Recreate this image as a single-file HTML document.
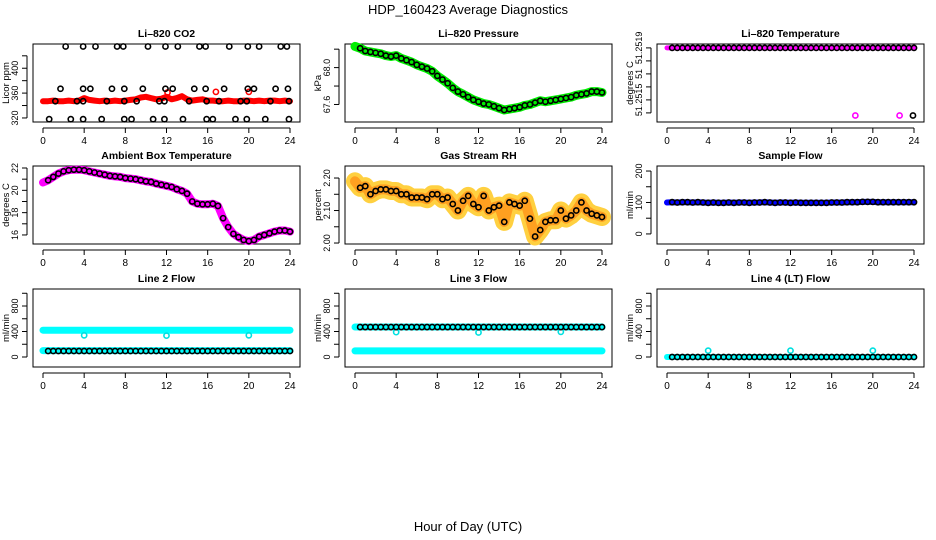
<!DOCTYPE html>
<html><head><meta charset="utf-8"><title>HDP_160423 Average Diagnostics</title>
<style>
html,body{margin:0;padding:0;background:#fff;}
svg{display:block;font-family:"Liberation Sans",Arial,sans-serif;}
</style></head>
<body>
<svg id="chart" width="936" height="540" viewBox="0 0 936 540" xmlns="http://www.w3.org/2000/svg">
<rect width="936" height="540" fill="#fff"/>
<text x="468" y="14" text-anchor="middle" font-size="13">HDP_160423  Average Diagnostics</text>
<text x="468" y="531" text-anchor="middle" font-size="13">Hour of Day (UTC)</text>
<g id="plots"></g>
</svg>
<script>
// ---------- data ----------
const hours = [0,0.5,1,1.5,2,2.5,3,3.5,4,4.5,5,5.5,6,6.5,7,7.5,8,8.5,9,9.5,10,10.5,11,11.5,12,12.5,13,13.5,14,14.5,15,15.5,16,16.5,17,17.5,18,18.5,19,19.5,20,20.5,21,21.5,22,22.5,23,23.5,24];
const xTicks = [0,4,8,12,16,20,24];

const co2Red = [347,347,348,347,347,348,347,348,352,349,348,347,348,347,348,347,348,349,350,353,354,352,350,351,354,350,352,355,350,348,349,350,348,348,347,347,348,347,347,348,348,347,348,347,348,348,347,348,347];
const co2BlackHours = [2.2,3.9,5.1,7.2,7.8,10.2,11.9,13.1,15.2,15.8,18.1,19.9,21.0,23.1,23.7,1.7,3.9,4.6,6.7,7.9,9.7,11.9,12.6,14.7,15.8,17.6,19.9,20.5,22.6,23.8,0.6,2.7,3.9,5.7,7.9,8.6,10.7,11.8,13.6,15.9,16.5,18.7,19.8,21.6,23.9,1.2,3.3,3.9,6.2,7.9,9.1,11.3,11.8,14.2,15.9,17.1,19.2,19.8,22.1,23.9];
const co2BlackVals = [435,435,435,435,435,435,435,435,435,435,435,435,435,435,435,367,367,367,367,367,367,367,367,367,367,367,367,367,367,367,318,318,318,318,318,318,318,318,318,318,318,318,318,318,318,347,347,347,347,347,347,347,347,347,347,347,347,347,347,347];
const co2OutHours = [16.8,20.0,12.1];
const co2OutVals = [362,362,361];

const pressure = [68.23,68.21,68.18,68.17,68.16,68.15,68.13,68.12,68.13,68.10,68.08,68.06,68.03,68.01,67.99,67.96,67.91,67.87,67.83,67.78,67.74,67.71,67.68,67.65,67.63,67.61,67.60,67.58,67.56,67.54,67.55,67.56,67.57,67.59,67.60,67.62,67.64,67.63,67.64,67.65,67.66,67.67,67.68,67.70,67.71,67.72,67.74,67.74,67.73];

const tempHigh = 51.2519;
const tempLowHours = [18.3,22.6,23.9];
const tempLowVals = [51.25138,51.25138,51.25138];

const ambient = [20.7,20.9,21.2,21.5,21.7,21.8,21.85,21.85,21.8,21.7,21.6,21.5,21.4,21.3,21.25,21.2,21.1,21.05,21.0,20.9,20.8,20.75,20.6,20.5,20.4,20.3,20.1,19.95,19.7,19.0,18.8,18.75,18.75,18.8,18.6,17.5,16.7,16.1,15.8,15.55,15.45,15.55,15.85,16.0,16.15,16.3,16.4,16.4,16.3];

const rh = [2.19,2.17,2.175,2.15,2.16,2.165,2.165,2.16,2.16,2.15,2.15,2.14,2.14,2.14,2.135,2.15,2.15,2.135,2.14,2.12,2.10,2.13,2.145,2.12,2.11,2.145,2.10,2.11,2.115,2.065,2.125,2.12,2.115,2.13,2.075,2.02,2.04,2.065,2.07,2.07,2.10,2.075,2.085,2.10,2.125,2.10,2.09,2.085,2.08];

const sampleFlow = [100,101,100,101,101,100,101,100,99,100,99,99,100,99,100,100,99,100,100,101,100,99,100,100,99,100,99,99,99,99,99,99,100,100,100,101,101,101,102,102,102,101,101,101,101,101,101,101,101];

const line2High = 420, line2Low = 100, line2Black = 94;
const line3High = 470, line3Low = 95, line3Black = 470;
const line4Level = 0;
const flowOutHours = [4,12,20];
const line2Out = [340,335,340];
const line3Out = [390,385,395];
const line4Out = [100,100,100];

// ---------- layout ----------
const NS = "http://www.w3.org/2000/svg";
const root = document.getElementById('plots');
const colLeft = [33,345,657], rowTop = [44,166,289], boxW = 267, boxH = 78;
function el(tag, attrs, parent){ const e = document.createElementNS(NS, tag); for (const k in attrs) e.setAttribute(k, attrs[k]); (parent||root).appendChild(e); return e; }

function makePanel(col, row, title, ylab, ylim, yticks, ylabels, name){
  const L = colLeft[col], T = rowTop[row];
  const g = el('g', {});
  
  
  const sx = h => L + 10 + h / 24 * (boxW - 20);
  const sy = v => T + boxH - (v - ylim[0]) / (ylim[1] - ylim[0]) * boxH;
  const t = el('text', {x: L + boxW/2, y: T - 7, 'text-anchor':'middle', 'font-size':'10.5', 'font-weight':'bold'}, g);
  t.textContent = title;
  
  
  const box = el('rect', {x:L, y:T, width:boxW, height:boxH, fill:'none', stroke:'#000', 'stroke-width':'1'}, g);
  
  
  const xa = el('g', {}, g);
  
  
  el('line', {x1:sx(xTicks[0]), x2:sx(xTicks[xTicks.length-1]), y1:T+boxH+6, y2:T+boxH+6, stroke:'#000'}, xa);
  xTicks.forEach(v => {
    el('line', {x1:sx(v), x2:sx(v), y1:T+boxH+6, y2:T+boxH+11, stroke:'#000'}, xa);
    const tx = el('text', {x:sx(v), y:T+boxH+22, 'text-anchor':'middle', 'font-size':'10'}, xa);
    tx.textContent = v;
    
    
  });
  const ya = el('g', {}, g);
  
  
  const ax = L - 6;
  el('line', {x1:ax, x2:ax, y1:sy(yticks[0]), y2:sy(yticks[yticks.length-1]), stroke:'#000'}, ya);
  yticks.forEach((v,i) => {
    el('line', {x1:ax-5, x2:ax, y1:sy(v), y2:sy(v), stroke:'#000'}, ya);
    if (ylabels[i]) {
      const ty = el('text', {x:0, y:0, 'text-anchor':'middle', 'font-size':'9', transform:`translate(${ax-9},${sy(v)}) rotate(-90)`}, ya);
      ty.textContent = ylabels[i];
      
      
    }
  });
  const yl = el('text', {x:0, y:0, 'text-anchor':'middle', 'font-size':'9.5', transform:`translate(${L-24},${T+boxH/2}) rotate(-90)`}, g);
  yl.textContent = ylab;
  
  
  const plot = el('g', {}, g);
  
  
  return {sx, sy, g:plot};
}
function band(p, xs, ys, color, w, nm){
  const pts = xs.map((h,i) => p.sx(h).toFixed(1) + ',' + p.sy(ys[i]).toFixed(1)).join(' ');
  const pl = el('polyline', {points:pts, fill:'none', stroke:color, 'stroke-width':w, 'stroke-linejoin':'round', 'stroke-linecap':'round'}, p.g);
  
  
}
function circles(p, xs, ys, color, nm, r){
  xs.forEach((h,i) => {
    const c = el('circle', {cx:p.sx(h), cy:p.sy(ys[i]), r:r||2.6, fill:'none', stroke:color, 'stroke-width':'1.6'}, p.g);
    
    
  });
}
const constArr = v => hours.map(() => v);

let p = makePanel(0,0,'Li\u2013820 CO2','Licor ppm',[313.5,439],[320,340,360,380,400,420],['320','','360','','400',''],'co2');
band(p, hours, co2Red, '#ff0000', 6, 'co2-red-band');
circles(p, co2OutHours, co2OutVals, '#ff0000', 'co2-red-point');
circles(p, co2BlackHours, co2BlackVals, '#000', 'co2-black-point');

p = makePanel(1,0,'Li\u2013820 Pressure','kPa',[67.41,68.256],[67.6,67.8,68.0,68.2],['67.6','','68.0',''],'pressure');
band(p, hours, pressure, '#00ee00', 9, 'pressure-green-band');
circles(p, hours.slice(1), pressure.slice(1), '#000', 'pressure-black-point');

p = makePanel(2,0,'Li\u2013820 Temperature','degrees C',[51.25133,51.25193],[51.2514,51.2515,51.2516,51.2517,51.2518,51.2519],['','51.2515','','51','','51.2519'],'li820-temp');
band(p, hours, constArr(tempHigh), '#ff00ff', 5, 'temp-magenta-band');
circles(p, hours.slice(1), constArr(tempHigh).slice(1), '#000', 'temp-black-point');
circles(p, tempLowHours.slice(0,2), tempLowVals.slice(0,2), '#ff00ff', 'temp-magenta-point');
circles(p, tempLowHours.slice(2), tempLowVals.slice(2), '#000', 'temp-black-low-point');

p = makePanel(0,1,'Ambient Box Temperature','degrees C',[15.19,22.18],[16,17,18,19,20,21,22],['16','','18','','20','','22'],'ambient');
band(p, hours, ambient, '#ff00ff', 8, 'ambient-magenta-band');
circles(p, hours.slice(1), ambient.slice(1), '#000', 'ambient-black-point');

p = makePanel(1,1,'Gas Stream RH','percent',[1.997,2.237],[2.00,2.05,2.10,2.15,2.20],['2.00','','2.10','','2.20'],'rh');
band(p, hours, rh, '#ffd040', 18, 'rh-yellow-band');
band(p, hours, rh, '#ffa020', 10, 'rh-orange-band');
circles(p, hours.slice(1), rh.slice(1), '#000', 'rh-black-point');

p = makePanel(2,1,'Sample Flow','ml/min',[-32,216],[0,50,100,150,200],['0','','100','','200'],'sample-flow');
band(p, hours, sampleFlow, '#0000ff', 6, 'sample-blue-band');
circles(p, hours.slice(1), sampleFlow.slice(1), '#000', 'sample-black-point');

const flowLim = [-157,1067], flowTicks = [0,200,400,600,800,1000], flowLabels = ['0','','400','','800',''];
p = makePanel(0,2,'Line 2 Flow','ml/min',flowLim,flowTicks,flowLabels,'line2');
band(p, hours, constArr(line2High), '#00ffff', 7, 'line2-cyan-high');
band(p, hours, constArr(line2Low), '#00ffff', 7, 'line2-cyan-low');
circles(p, flowOutHours, line2Out, '#00e0e0', 'line2-cyan-outlier');
circles(p, hours.slice(1), constArr(line2Black).slice(1), '#000', 'line2-black-point');

p = makePanel(1,2,'Line 3 Flow','ml/min',flowLim,flowTicks,flowLabels,'line3');
band(p, hours, constArr(line3High), '#00ffff', 7, 'line3-cyan-high');
band(p, hours, constArr(line3Low), '#00ffff', 7, 'line3-cyan-low');
circles(p, flowOutHours, line3Out, '#00e0e0', 'line3-cyan-outlier');
circles(p, hours.slice(1), constArr(line3Black).slice(1), '#000', 'line3-black-point');

p = makePanel(2,2,'Line 4 (LT) Flow','ml/min',flowLim,flowTicks,flowLabels,'line4');
band(p, hours, constArr(line4Level), '#00ffff', 6, 'line4-cyan-band');
circles(p, flowOutHours, line4Out, '#00e0e0', 'line4-cyan-outlier');
circles(p, hours.slice(1), constArr(line4Level).slice(1), '#000', 'line4-black-point');
</script>
</body></html>
